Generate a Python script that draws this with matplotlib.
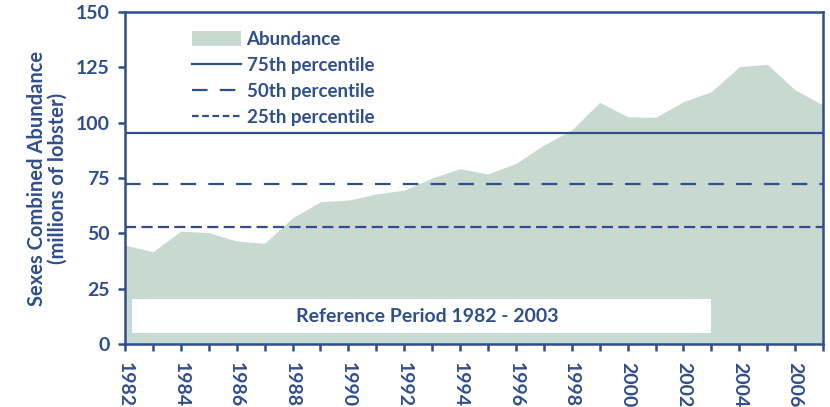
import numpy as np
import matplotlib.pyplot as plt
from matplotlib.patches import Rectangle, Patch
from matplotlib.lines import Line2D

# data
years = list(range(1982, 2008))
abundance = [44.7, 41.7, 51.0, 50.3, 46.5, 45.5, 57.0, 64.3, 65.0, 67.8, 69.5, 75.0,
             79.2, 76.8, 81.6, 89.9, 96.7, 109.2, 102.7, 102.4, 109.5, 114.0,
             125.3, 126.4, 114.8, 108.0]
p75 = 95.2
p50 = 72.3
p25 = 53.0
ref_start, ref_end = 1982.25, 2003.0

blue = '#2F4E8E'
fill = '#C8D9D2'

plt.rcParams['font.family'] = ['Lato', 'DejaVu Sans']

fig = plt.figure(figsize=(8.3, 4.07), dpi=100)
ax = fig.add_axes([0.1506, 0.1548, 0.8410, 0.8157])

ax.fill_between(years, abundance, 0, color=fill, lw=0, zorder=1)
ax.add_patch(Rectangle((ref_start, 4.8), ref_end - ref_start, 15.5,
                       facecolor='white', edgecolor='none', zorder=2))
ax.text((ref_start + ref_end) / 2 + 0.2, 12.5, 'Reference Period 1982 - 2003',
        ha='center', va='center', color=blue, fontsize=14, fontweight='bold',
        zorder=3)

ax.axhline(p75, color=blue, lw=1.6, zorder=3)
ax.axhline(p50, color=blue, lw=1.6, ls=(0, (7, 5.5)), zorder=3)
ax.axhline(p25, color=blue, lw=1.6, ls=(0, (5, 2.4)), zorder=3)

ax.set_xlim(1982, 2007)
ax.set_ylim(0, 150)
ax.set_yticks(range(0, 151, 25))
ax.set_xticks(range(1982, 2007, 2))
ax.set_xticks(range(1982, 2008), minor=True)

for s in ax.spines.values():
    s.set_color(blue)
    s.set_linewidth(1.8)
ax.tick_params(axis='both', which='both', colors=blue, width=1.8, length=5,
               labelsize=14, direction='out')
ax.tick_params(axis='x', labelrotation=-90, pad=8)
ax.tick_params(axis='y', pad=6)
for lab in ax.get_xticklabels() + ax.get_yticklabels():
    lab.set_fontweight('bold')

ax.set_ylabel('Sexes Combined Abundance\n(millions of lobster)', color=blue,
              fontsize=14.5, fontweight='bold', labelpad=6, linespacing=1.05)

handles = [Patch(facecolor=fill, edgecolor='none'),
           Line2D([], [], color=blue, lw=1.6),
           Line2D([], [], color=blue, lw=1.6, ls=(0, (7, 5.5))),
           Line2D([], [], color=blue, lw=1.6, ls=(0, (3, 1.6)))]
labels = ['Abundance', '75th percentile', '50th percentile', '25th percentile']
leg = ax.legend(handles, labels, loc='upper left', bbox_to_anchor=(0.072, 0.995),
                frameon=False, fontsize=13.5, handlelength=2.6, handleheight=0.9,
                labelspacing=0.47, handletextpad=0.3)
for t in leg.get_texts():
    t.set_color(blue)
    t.set_fontweight('bold')

fig.savefig('out.png', dpi=100)
